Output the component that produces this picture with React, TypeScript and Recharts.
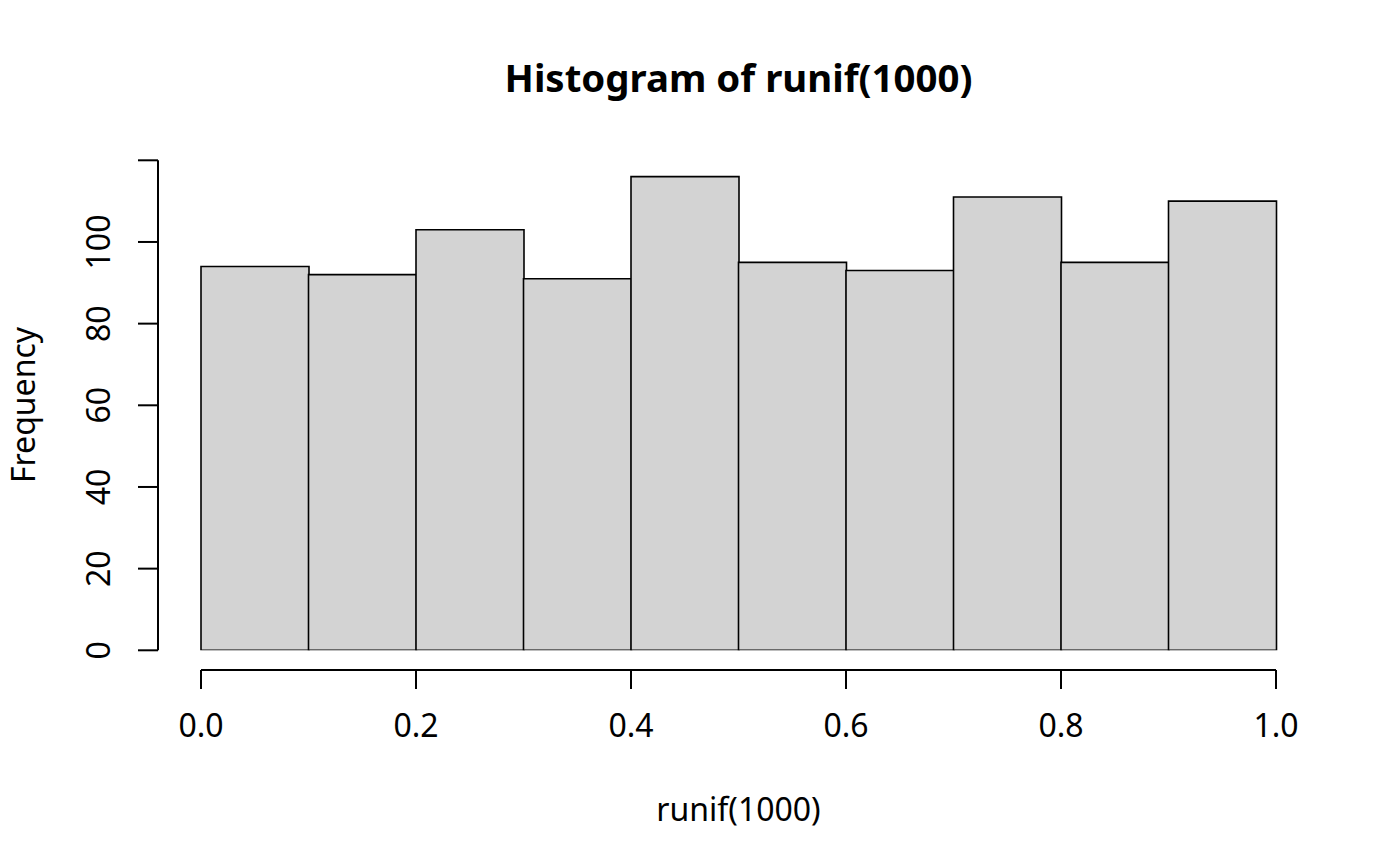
import { BarChart, Bar, XAxis, YAxis } from "recharts"

// histogram of runif(1000), breaks every 0.1
const binStarts = [0, 0.1, 0.2, 0.3, 0.4, 0.5, 0.6, 0.7, 0.8, 0.9]
const counts = [94, 92, 103, 91, 116, 95, 93, 111, 95, 110]
const xTicks = [0, 0.2, 0.4, 0.6, 0.8, 1]
const yTicks = [0, 20, 40, 60, 80, 100, 120]
const yLabelled = [0, 20, 40, 60, 80, 100] // R drops the 120 label (no room)

const data = binStarts.map((b, i) => ({ bin: b, count: counts[i] }))

const FONT = "'Noto Sans', 'Open Sans', sans-serif"

function YTick(props: any) {
  const { x, y, payload } = props
  if (!yLabelled.includes(payload.value)) return null
  return (
    <text
      x={x}
      y={y}
      transform={`rotate(-90, ${x}, ${y})`}
      textAnchor="middle"
      fontSize={32}
      fontFamily={FONT}
      fill="#000"
    >
      {payload.value}
    </text>
  )
}

export default function App() {
  return (
    <div style={{ position: "absolute", left: 0, top: 0, background: "#fff" }}>
      <BarChart
        width={1400}
        height={866}
        data={data}
        margin={{ top: 160.3, right: 124, bottom: 96, left: 0 }}
        barCategoryGap={0}
        barGap={0}
      >
        <XAxis
          xAxisId="bins"
          dataKey="bin"
          type="category"
          height={19.7}
          tick={false}
          tickLine={false}
          axisLine={false}
        />
        <XAxis
          xAxisId="x"
          dataKey="bin"
          type="number"
          domain={[0, 1]}
          ticks={xTicks}
          interval={0}
          allowDataOverflow
          height={100}
          tickSize={19}
          tickMargin={25}
          tickFormatter={(v: number) => v.toFixed(1)}
          axisLine={{ stroke: "#000", strokeWidth: 2 }}
          tickLine={{ stroke: "#000", strokeWidth: 2 }}
          tick={{ fontSize: 32, fill: "#000", fontFamily: FONT }}
        />
        <YAxis
          yAxisId="b_freq"
          width={158}
          domain={[0, 120]}
          ticks={yTicks}
          interval={0}
          allowDataOverflow
          tickSize={20}
          tickMargin={28}
          axisLine={{ stroke: "#000", strokeWidth: 2 }}
          tickLine={{ stroke: "#000", strokeWidth: 2 }}
          tick={<YTick />}
        />
        <YAxis
          yAxisId="a_pad"
          width={43}
          domain={[0, 120]}
          tick={false}
          tickLine={false}
          axisLine={false}
        />
        <Bar
          dataKey="count"
          xAxisId="bins"
          yAxisId="b_freq"
          fill="#d3d3d3"
          stroke="#000"
          strokeWidth={1.6}
          isAnimationActive={false}
        />
        <text
          x={738.5}
          y={92}
          textAnchor="middle"
          fontSize={38.4}
          fontWeight="bold"
          fontFamily={FONT}
          fill="#000"
        >
          Histogram of runif(1000)
        </text>
        <text x={738.5} y={821} textAnchor="middle" fontSize={32} fontFamily={FONT} fill="#000">
          runif(1000)
        </text>
        <text
          x={35}
          y={405}
          transform="rotate(-90, 35, 405)"
          textAnchor="middle"
          fontSize={32}
          fontFamily={FONT}
          fill="#000"
        >
          Frequency
        </text>
      </BarChart>
    </div>
  )
}
